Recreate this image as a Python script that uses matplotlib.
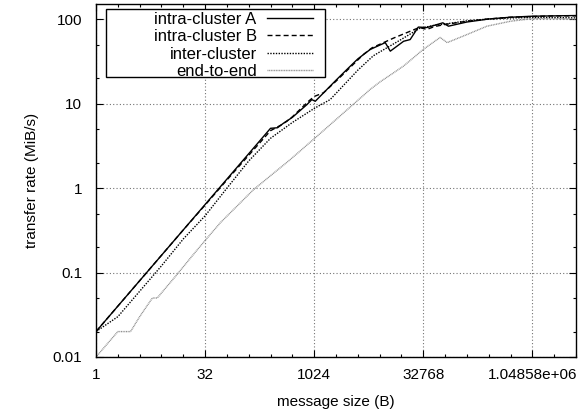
import matplotlib
matplotlib.use('Agg')
import matplotlib.pyplot as plt
from matplotlib.ticker import FixedLocator, FixedFormatter, NullFormatter
from matplotlib.patches import Rectangle

plt.rcParams['font.family'] = ['Liberation Sans', 'DejaVu Sans']

# message size (B) -> transfer rate (MiB/s)
size_a = [1, 2, 4, 8, 16, 32, 64, 128, 256, 320, 388, 512, 816, 950, 1060,
          2048, 2900, 4096, 6080, 9800, 11500, 17550, 21600, 28000, 36900,
          61000, 73000, 131072, 262144, 524288, 1048576, 2097152, 4194304]
rate_a = [0.02, 0.04, 0.08, 0.16, 0.32, 0.64, 1.28, 2.56, 5.12, 5.2, 5.9, 6.9,
          9.8, 11.2, 10.7, 19, 25.5, 34, 44, 53, 42, 55, 57.6, 81, 80,
          91, 83, 93, 101, 106, 109, 110, 111]

size_b = [1, 2, 4, 8, 16, 32, 64, 128, 256, 367, 430, 512, 855, 1024, 1380,
          2048, 4096, 4900, 6430, 12760, 26800, 29000, 36900, 46300, 65536,
          131072, 262144, 524288, 1048576, 2097152, 4194304]
rate_b = [0.02, 0.04, 0.08, 0.16, 0.32, 0.63, 1.25, 2.45, 4.8, 5.67, 6.2, 7.0,
          10.7, 12.2, 13.5, 18.5, 33, 38.4, 46, 60, 78, 80, 76, 82, 87,
          95, 101, 106, 108, 110, 110]

size_inter = [1, 2, 4, 8, 16, 32, 64, 128, 256, 512, 1024, 1700, 4096, 6700,
              8192, 16384, 29000, 46300, 65536, 131072, 262144, 524288,
              1048576, 2097152, 4194304]
rate_inter = [0.02, 0.03, 0.06, 0.12, 0.25, 0.47, 1.0, 2.1, 3.9, 6.0, 8.8,
              11.2, 25, 37, 41, 58, 78, 85, 88, 96, 101, 104, 105, 105, 104]

size_e2e = [1, 2, 3, 4, 6, 7, 10, 13, 20, 32, 52, 149, 478, 1060, 2048, 6080,
            8192, 17550, 32768, 56000, 70000, 131072, 248000, 524288,
            1048576, 2097152, 4194304]
rate_e2e = [0.01, 0.02, 0.02, 0.03, 0.05, 0.05, 0.072, 0.094, 0.148, 0.24,
            0.39, 0.96, 2.18, 3.95, 6.5, 14.8, 18, 28, 44, 61, 53, 66, 83,
            95, 102, 102, 100]

xtick_vals = [1, 32, 1024, 32768, 1048576]
xtick_labels = ['1', '32', '1024', '32768', '1.04858e+06']
ytick_vals = [0.01, 0.1, 1, 10, 100]
ytick_labels = ['0.01', '0.1', '1', '10', '100']

fig = plt.figure(figsize=(5.86, 4.12), dpi=100)
ax = fig.add_axes([0.1638, 0.1335, 0.8191, 0.8556])

l1, = ax.plot(size_a, rate_a, color='k', lw=1.0)
l2, = ax.plot(size_b, rate_b, color='k', lw=1.0, linestyle=(0, (3.6, 2.2)))
l3, = ax.plot(size_inter, rate_inter, color='k', lw=1.0, linestyle=(0, (1, 1)))
l4, = ax.plot(size_e2e, rate_e2e, color='0.55', lw=1.0, linestyle=(0, (0.7, 0.5)))

ax.set_xscale('log', base=2)
ax.set_yscale('log')
ax.set_xlim(1, 2**22)
ax.set_ylim(0.01, 150)

ax.xaxis.set_major_locator(FixedLocator(xtick_vals))
ax.xaxis.set_major_formatter(FixedFormatter(xtick_labels))
ax.xaxis.set_minor_locator(FixedLocator([2**k for k in range(23)]))
ax.xaxis.set_minor_formatter(NullFormatter())
ax.yaxis.set_major_locator(FixedLocator(ytick_vals))
ax.yaxis.set_major_formatter(FixedFormatter(ytick_labels))
ax.yaxis.set_minor_locator(FixedLocator([m * d for d in ytick_vals for m in (2, 5)]))
ax.yaxis.set_minor_formatter(NullFormatter())

ax.tick_params(which='both', direction='in', top=True, right=True,
               labelsize=11, width=0.8, colors='k')
ax.tick_params(which='major', length=5)
ax.tick_params(which='minor', length=2.5)
ax.tick_params(axis='x', pad=8)
ax.tick_params(axis='y', pad=10)
for s in ax.spines.values():
    s.set_linewidth(1.0)

ax.grid(True, which='major', color='0.45', lw=0.8, linestyle=(0, (1, 2)))
ax.set_axisbelow(True)

ax.set_xlabel('message size (B)', fontsize=11)
ax.xaxis.set_label_coords(0.5, -0.108)
ax.set_ylabel('transfer rate (MiB/s)', fontsize=11)
ax.yaxis.set_label_coords(-0.119, 0.5)

# gnuplot style key: white box, labels right aligned, samples on the right
ax.add_patch(Rectangle((0.0208, 0.7935), 0.4563, 0.1929, transform=ax.transAxes,
                       facecolor='white', edgecolor='k', lw=1.0, zorder=4))
ax.legend([l1, l2, l3, l4],
          ['intra-cluster A', 'intra-cluster B', 'inter-cluster', 'end-to-end'],
          loc='upper right', bbox_to_anchor=(0.4515, 0.980), borderaxespad=0,
          borderpad=0, frameon=False, markerfirst=False, handlelength=2.76,
          handletextpad=0.6, labelspacing=0.15, fontsize=12)

fig.savefig('out.png', dpi=100)
